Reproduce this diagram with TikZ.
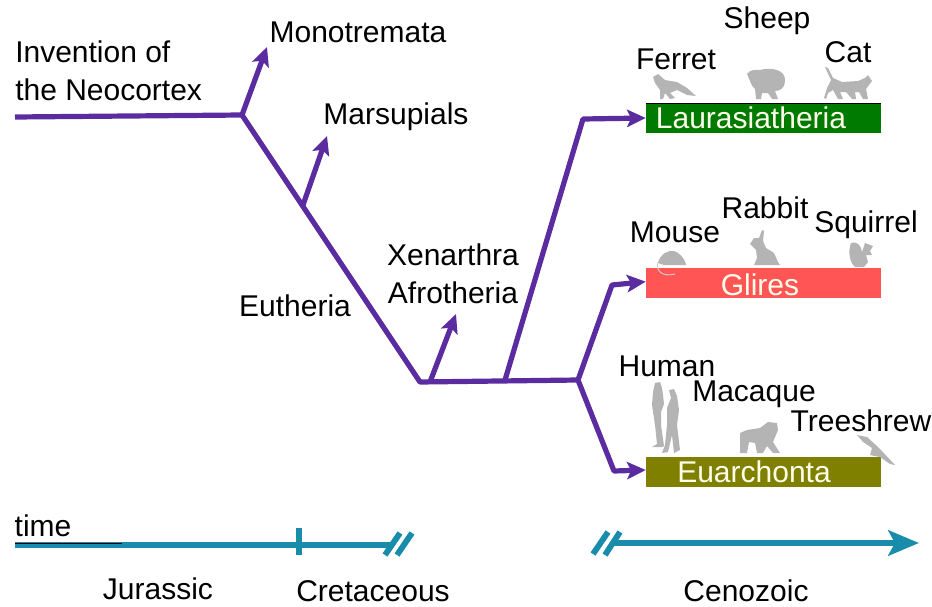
\documentclass[tikz,border=0pt]{standalone}
\usepackage{fontspec}
\setmainfont{Liberation Sans}
\usetikzlibrary{arrows.meta,positioning}

\definecolor{branchpurple}{HTML}{5A2CA0}
\definecolor{timeteal}{HTML}{1A8CAB}
\definecolor{animalgray}{HTML}{B4B4B4}
\definecolor{lauragreen}{HTML}{007A00}
\definecolor{gliresred}{HTML}{FF5555}
\definecolor{euarcholive}{HTML}{808000}

\tikzset{
  lbl/.style={font=\fontsize{22.5}{28.5}\selectfont, inner sep=0pt, align=center},
  barlbl/.style={lbl, text=white!92!yellow},
  cladebar/.style={rectangle, minimum width=176.25pt, minimum height=22pt, inner sep=0pt},
  branch/.style={draw=branchpurple, line width=3.9pt, line join=round},
  arrowbranch/.style={branch, -{Stealth[length=14pt, width=13pt, inset=3pt]}},
  timeline/.style={draw=timeteal, line width=4.4pt},
  animal/.style={fill=animalgray, draw=none}
}

\begin{document}
\begin{tikzpicture}[x=0.75pt, y=-0.75pt]
  \useasboundingbox (0,0) rectangle (932,607);

  % Branch points
  \coordinate (root) at (15,117);
  \coordinate (mono) at (242,115);
  \coordinate (mars) at (303,205);
  \coordinate (euth) at (420,382);
  \coordinate (afro) at (430,382);
  \coordinate (laur) at (505,380);
  \coordinate (laurbend) at (583,119);
  \coordinate (split) at (578,380);
  \coordinate (glirbend) at (612,285);
  \coordinate (euarbend) at (614,471);
  \coordinate (monotip) at (267,47);
  \coordinate (marstip) at (327,136);
  \coordinate (afrotip) at (456,314);

  % Clade bars
  \node[cladebar, fill=lauragreen] (laurbar) at (763.5,118) {};
  \draw[black, line width=0.8pt] (laurbar.north west) -- (laurbar.north east);
  \node[cladebar, fill=gliresred] (glirbar) at (763.5,283) {};
  \node[cladebar, fill=euarcholive] (euarbar) at (763.5,472) {};
  \node[barlbl] (laurlbl) at (751,118) {Laurasiatheria};
  \node[barlbl] (glirlbl) at (760,285) {Glires};
  \node[barlbl] (euarlbl) at (754,472) {Euarchonta};

  % Tree
  \draw[branch] (root) -- (mono) -- (euth) -- (split);
  \draw[arrowbranch] (mono) -- (monotip);
  \draw[arrowbranch] (mars) -- (marstip);
  \draw[arrowbranch] (afro) -- (afrotip);
  \draw[arrowbranch] (laur) -- (laurbend) -- (laurbar.west);
  \draw[arrowbranch] (split) -- (glirbend) -- ([yshift=1pt]glirbar.west);
  \draw[arrowbranch] (split) -- (euarbend) -- ([yshift=1.5pt]euarbar.west);

  % Tree labels
  \node[lbl, align=left, anchor=west] (neocortex) at (15,71) {Invention of\\the Neocortex};
  \node[lbl] (monolbl) at (358,32) {Monotremata};
  \node[lbl] (marslbl) at (396,117) {Marsupials};
  \node[lbl] (euthlbl) at (295,306) {Eutheria};
  \node[lbl] (afrolbl) at (453,274) {Xenarthra\\Afrotheria};

  % Species labels
  \node[lbl] (ferret) at (676,59) {Ferret};
  \node[lbl] (sheep) at (767,21) {Sheep};
  \node[lbl] (cat) at (848,52) {Cat};
  \node[lbl] (mouse) at (675,232) {Mouse};
  \node[lbl] (rabbit) at (765,208) {Rabbit};
  \node[lbl] (squirrel) at (866,225) {Squirrel};
  \node[lbl] (human) at (667,366) {Human};
  \node[lbl] (macaque) at (754,394) {Macaque};
  \node[lbl] (treeshrew) at (861,421) {Treeshrew};

  % Animals, Laurasiatheria
  \fill[animal] (653,77) -- (658,74) -- (665,80) -- (677,82) -- (687,88) -- (696,96) -- (687,95) -- (677,90) -- (670,93) -- (675,98) -- (670,99) -- (665,93) -- (663,99) -- (660,99) -- (660,90) -- (655,83) -- cycle;
  \fill[animal] (747,74) .. controls (750,69) and (756,70) .. (760,70) .. controls (770,67) and (786,69) .. (785,81) .. controls (785,88) and (780,91) .. (775,91) -- (778,99) -- (772,99) -- (768,93) -- (762,93) -- (761,99) -- (756,99) -- (755,89) .. controls (751,86) and (750,80) .. cycle;
  \fill[animal] (825,67) -- (828,68) -- (833,78) -- (842,82) -- (858,81) -- (865,78) -- (868,75) -- (872,81) -- (866,89) -- (868,99) -- (863,99) -- (859,92) -- (855,92) -- (856,99) -- (852,99) -- (846,92) -- (840,92) -- (843,99) -- (838,99) -- (833,90) -- (828,93) -- (826,99) -- (824,98) -- (827,88) -- (831,80) -- cycle;

  % Animals, Glires
  \fill[animal] (658,263) .. controls (660,254) and (668,250) .. (674,251) .. controls (680,253) and (684,258) .. (686,264) -- (686,265) -- (664,265) -- cycle;
  \draw[animalgray!60!white, line width=0.7pt] (658,262) .. controls (655,272) and (664,277) .. (675,274);
  \fill[animal] (762,230) -- (764,231) -- (763,241) -- (766,248) -- (774,253) -- (778,262) -- (780,265) -- (754,265) -- (757,258) -- (756,250) -- (750,244) -- (754,238) -- (759,238) -- cycle;
  \fill[animal] (851,243) .. controls (858,241) and (861,246) .. (862,252) -- (865,243) -- (873,246) -- (870,251) -- (872,255) -- (866,255) -- (868,262) -- (864,267) -- (855,267) .. controls (849,262) and (848,250) .. cycle;

  % Animals, Euarchonta
  \fill[animal] (655,383) -- (660,382) -- (662,388) -- (663,395) -- (664,404) -- (661,412) -- (661,425) -- (664,446) -- (662,447) -- (652,447) -- (657,444) -- (655,425) -- (652,405) -- (653,392) -- cycle;
  \fill[animal] (669,390) -- (674,389) -- (677,396) -- (679,410) -- (677,425) -- (680,450) -- (674,453) -- (672,435) -- (668,452) -- (662,453) -- (665,445) -- (667,425) -- (667,408) -- (671,398) -- cycle;
  \fill[animal] (740,433) -- (747,430) -- (760,428) -- (768,422) -- (777,423) -- (778,430) -- (773,442) -- (780,453) -- (773,453) -- (767,446) -- (763,453) -- (757,453) -- (755,443) -- (749,442) -- (747,453) -- (740,453) -- cycle;
  \fill[animal] (857,435) -- (867,437) -- (878,447) -- (895,465) -- (890,464) -- (880,457) -- (870,455) -- (872,448) -- (863,442) -- cycle;

  % Time axis
  \coordinate (timestart) at (15,545);
  \coordinate (timeblack) at (122,543);
  \coordinate (timeend) at (390,545);
  \coordinate (ticktop) at (299,528);
  \coordinate (tickbottom) at (299,555);
  \coordinate (cenostart) at (612,543);
  \coordinate (cenoend) at (919,543);
  \draw[timeline] (timestart) -- (timeend);
  \draw[black, line width=0.6pt] (timestart |- timeblack) -- (timeblack);
  \draw[timeline] (ticktop) -- (tickbottom);
  \draw[timeline] (385,555) -- (400,533);
  \draw[timeline] (397,555) -- (412,533);
  \draw[timeline] (593,554) -- (608,532);
  \draw[timeline] (605,555) -- (620,532);
  \draw[timeline, -{Stealth[length=23pt, width=19pt, inset=5pt]}] (cenostart) -- (cenoend);

  % Time labels
  \node[lbl] (timelbl) at (43,526) {time};
  \node[lbl] (jurassic) at (158,589) {Jurassic};
  \node[lbl] (cretaceous) at (373,591) {Cretaceous};
  \node[lbl] (cenozoic) at (746,591) {Cenozoic};
\end{tikzpicture}
\end{document}
